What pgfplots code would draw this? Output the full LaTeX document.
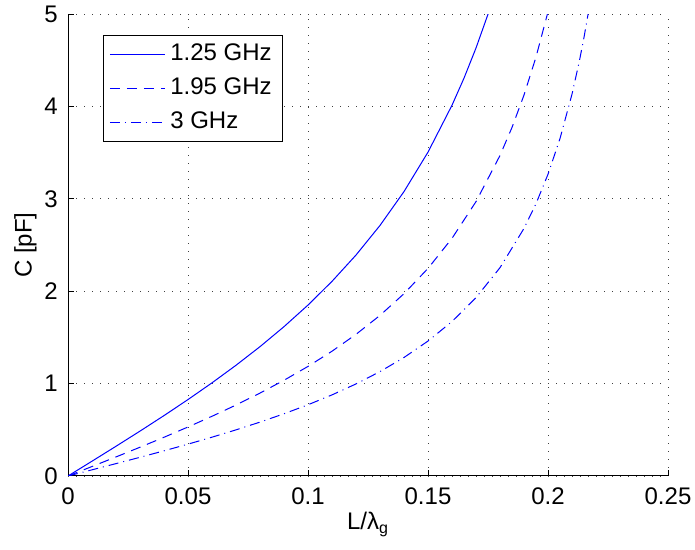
\documentclass[border=0pt]{standalone}
\usepackage{fontspec}
\setmainfont{Liberation Sans}
\usepackage{pgfplots}
\pgfplotsset{compat=1.18}

% C [pF] read for a 50 ohm stub at three frequencies
\pgfplotstableread{
x      c
0      0
0.01   0.1602
0.02   0.3217
0.03   0.4858
0.04   0.6538
0.05   0.8274
0.06   1.0082
0.07   1.1983
0.08   1.3999
0.09   1.6161
0.10   1.8501
0.11   2.1066
0.12   2.3913
0.13   2.7117
0.14   3.0782
0.15   3.5049
0.16   4.0126
0.165  4.3059
0.17   4.6320
0.175  4.9978
0.176  5.075
}\lowf
\pgfplotstableread{
x      c
0      0
0.01   0.1027
0.02   0.2062
0.03   0.3114
0.04   0.4191
0.05   0.5304
0.06   0.6463
0.07   0.7681
0.08   0.8974
0.09   1.0359
0.10   1.1860
0.11   1.3504
0.12   1.5329
0.13   1.7383
0.14   1.9732
0.15   2.2468
0.16   2.5722
0.17   2.9693
0.18   3.4690
0.185  3.7724
0.19   4.1229
0.195  4.5341
0.20   5.0239
}\midf
\pgfplotstableread{
x      c
0      0
0.01   0.0668
0.02   0.1340
0.03   0.2024
0.04   0.2724
0.05   0.3448
0.06   0.4201
0.07   0.4993
0.08   0.5833
0.09   0.6734
0.10   0.7709
0.11   0.8778
0.12   0.9964
0.13   1.1299
0.14   1.2826
0.15   1.4604
0.16   1.6719
0.17   1.9300
0.18   2.2548
0.19   2.6798
0.195  2.9471
0.20   3.2655
0.205  3.6521
0.21   4.1325
0.213  4.4817
0.215  4.7473
0.217  5.0436
}\highf

\begin{document}
\fontsize{12}{14}\selectfont
\begin{tikzpicture}
\begin{axis}[
    scale only axis,
    width=300pt,
    height=231pt,
    xmin=0, xmax=0.25,
    ymin=0, ymax=5,
    xtick={0,0.05,...,0.25},
    ytick={0,1,...,5},
    scaled x ticks=false,
    /pgf/number format/assume math mode=true,
    /pgf/number format/fixed,
    /pgf/number format/precision=2,
    axis lines*=left,
    axis line style={black, line width=0.5pt},
    tick style={black, line width=0.5pt},
    major tick length=3pt,
    tick align=inside,
    grid=major,
    grid style={black!75, line width=0.45pt, dash pattern=on 0.5pt off 3.5pt},
    xticklabel style={yshift=-1.5pt},
    yticklabel style={xshift=-1pt},
    xlabel={L/λ\textsubscript{g}},
    ylabel={C [pF]},
    xlabel style={at={(axis description cs:0.5,0)}, anchor=north, yshift=-14pt},
    ylabel style={at={(axis description cs:-0.071,0.5)}, anchor=center},
    legend style={at={(axis description cs:0.058,0.955)}, anchor=north west,
        draw=black, line width=0.5pt, fill=white, inner xsep=3pt, inner ysep=1pt,
        row sep=0pt, font=\fontsize{12}{14}\selectfont,
        nodes={text height=9pt, text depth=3pt, inner sep=2.5pt}},
    legend cell align=left,
    legend image code/.code={\draw[#1] (0pt,0pt) -- (27.5pt,0pt);},
]
\addplot[blue, line width=0.5pt] table[x=x, y=c] {\lowf};
\addplot[blue, line width=0.5pt, dash pattern=on 5pt off 3.5pt] table[x=x, y=c] {\midf};
\addplot[blue, line width=0.5pt, dash pattern=on 5pt off 2.5pt on 0.5pt off 2.5pt] table[x=x, y=c] {\highf};
\legend{1.25 GHz,1.95 GHz,3 GHz}
\end{axis}
\pgfresetboundingbox
\path[use as bounding box] (-34pt,-37pt) rectangle (313.5pt,238pt);
\end{tikzpicture}
\end{document}
